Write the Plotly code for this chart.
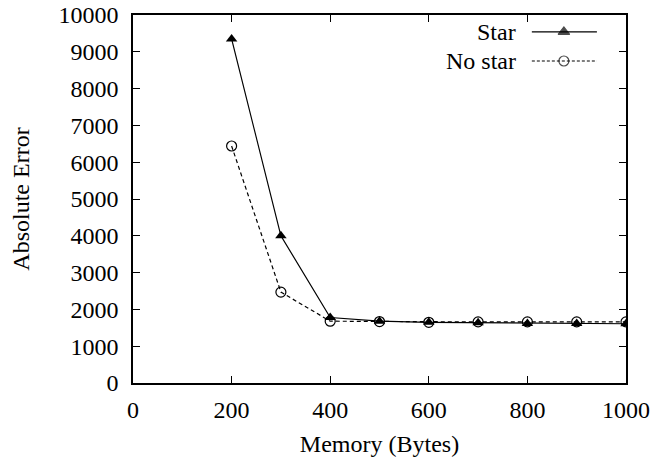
import plotly.graph_objects as go

# Measurements: absolute error vs. memory budget
memory = [200, 300, 400, 500, 600, 700, 800, 900, 1000]
star = [9350, 4000, 1780, 1680, 1650, 1640, 1620, 1620, 1610]
no_star = [6440, 2470, 1680, 1670, 1650, 1660, 1660, 1660, 1660]

x_ticks = [0, 200, 400, 600, 800, 1000]
y_ticks = list(range(0, 10001, 1000))
y_ticklabels = [str(v) for v in y_ticks]

FONT = "Liberation Serif, Times New Roman, serif"
FS = 24

fig = go.Figure()

fig.add_trace(go.Scatter(
    x=memory, y=star, mode="lines+markers", name="Star",
    line=dict(color="black", width=1.2),
    marker=dict(symbol="triangle-up", size=10, color="black"),
    showlegend=False,
))
fig.add_trace(go.Scatter(
    x=memory, y=no_star, mode="lines+markers", name="No star",
    line=dict(color="black", width=1.2, dash="4px,3px"),
    marker=dict(symbol="circle-open", size=10, color="black", line=dict(width=1.2)),
    showlegend=False,
))

# gnuplot-style key: label on the left, sample line + symbol on the right
key_rows = [
    ("Star", 0.954, dict(color="black", width=1.2), "triangle-up"),
    ("No star", 0.875, dict(color="black", width=1.2, dash="3px,2px"), "circle-open"),
]
for label, ky, lstyle, sym in key_rows:
    fig.add_trace(go.Scatter(
        x=[0.809, 0.874, 0.941], y=[ky, ky, ky], mode="lines+markers",
        xaxis="x2", yaxis="y2", line=lstyle, showlegend=False, hoverinfo="skip",
        marker=dict(symbol=sym, size=[0, 10, 0], color="black", line=dict(width=1.2, color="black")),
    ))
    fig.add_annotation(
        x=0.781, y=ky, xref="x2", yref="y2", text=label, showarrow=False,
        xanchor="right", yanchor="middle", font=dict(family=FONT, size=FS, color="black"),
    )

axis_common = dict(
    showline=True, linecolor="black", linewidth=1.5, mirror="ticks",
    ticks="inside", ticklen=7, tickwidth=1, tickcolor="black",
    showgrid=False, zeroline=False, automargin=False,
    tickfont=dict(family=FONT, size=FS, color="black"),
)

fig.update_layout(
    width=651, height=463,
    margin=dict(l=133, r=25, t=15, b=80, autoexpand=False),
    paper_bgcolor="white", plot_bgcolor="white",
    font=dict(family=FONT, size=FS, color="black"),
    xaxis=dict(range=[0, 1000], tickvals=x_ticks, ticklabelstandoff=4,
               title=dict(text="Memory (Bytes)", font=dict(family=FONT, size=FS), standoff=14),
               **axis_common),
    yaxis=dict(range=[0, 10000], tickvals=y_ticks, ticktext=y_ticklabels, ticklabelstandoff=8,
               title=dict(text="Absolute Error", font=dict(family=FONT, size=FS), standoff=22),
               **axis_common),
    xaxis2=dict(range=[0, 1], overlaying="x", visible=False, fixedrange=True),
    yaxis2=dict(range=[0, 1], overlaying="y", visible=False, fixedrange=True),
)

fig.write_html("out.html")
